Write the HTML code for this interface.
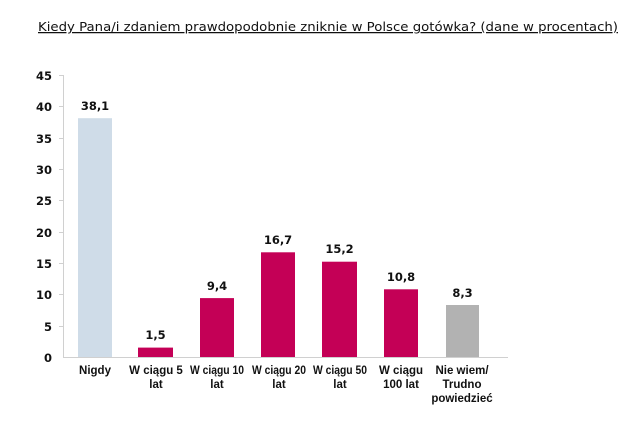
<!DOCTYPE html>
<html><head><meta charset="utf-8"><style>
body{margin:0;background:#fff;width:640px;height:421px;overflow:hidden}
svg{display:block}
text{font-family:"DejaVu Sans","Liberation Sans",sans-serif;fill:#111}
.c{font-family:"Liberation Sans",sans-serif;font-weight:bold}
</style></head><body>
<svg width="640" height="421" viewBox="0 0 640 421">
<text x="38" y="31" font-size="12.5" text-decoration="underline" textLength="580" lengthAdjust="spacingAndGlyphs">Kiedy Pana/i zdaniem prawdopodobnie zniknie w Polsce gotówka? (dane w procentach)</text>
<g stroke="#d0d0d0" stroke-width="1">
<line x1="63.5" y1="75" x2="63.5" y2="357"/>
<line x1="63" y1="357.5" x2="508" y2="357.5"/>
<line x1="59" y1="75.5" x2="63" y2="75.5"/><line x1="59" y1="106.5" x2="63" y2="106.5"/><line x1="59" y1="138.5" x2="63" y2="138.5"/><line x1="59" y1="169.5" x2="63" y2="169.5"/><line x1="59" y1="200.5" x2="63" y2="200.5"/><line x1="59" y1="232.5" x2="63" y2="232.5"/><line x1="59" y1="263.5" x2="63" y2="263.5"/><line x1="59" y1="294.5" x2="63" y2="294.5"/><line x1="59" y1="326.5" x2="63" y2="326.5"/>
</g>
<g font-size="11.5" text-anchor="end" font-weight="bold">
<text x="52" y="80">45</text><text x="52" y="111">40</text><text x="52" y="143">35</text><text x="52" y="174">30</text><text x="52" y="205">25</text><text x="52" y="237">20</text><text x="52" y="268">15</text><text x="52" y="299">10</text><text x="52" y="331">5</text><text x="52" y="362">0</text>
</g>
<rect x="78" y="118.2" width="34" height="238.8" fill="#cfdce8"/>
<rect x="138" y="347.6" width="35" height="9.4" fill="#c40056"/>
<rect x="200" y="298.1" width="34" height="58.9" fill="#c40056"/>
<rect x="261" y="252.3" width="34" height="104.7" fill="#c40056"/>
<rect x="322" y="261.7" width="35" height="95.3" fill="#c40056"/>
<rect x="384" y="289.3" width="34" height="67.7" fill="#c40056"/>
<rect x="446" y="305" width="33" height="52" fill="#b2b2b2"/>
<g font-size="11.5" text-anchor="middle" font-weight="bold">
<text x="95" y="110">38,1</text><text x="155.5" y="339">1,5</text><text x="217" y="290">9,4</text><text x="278" y="244">16,7</text><text x="339.5" y="253">15,2</text><text x="401" y="281">10,8</text><text x="462.5" y="297">8,3</text>
</g>
<g font-size="11.5" text-anchor="middle">
<text class="c" x="95" y="374">Nigdy</text>
<text class="c" x="156" y="374">W ciągu 5</text><text class="c" x="156" y="388">lat</text>
<text class="c" x="217" y="374" textLength="54" lengthAdjust="spacingAndGlyphs">W ciągu 10</text><text class="c" x="217" y="388">lat</text>
<text class="c" x="279" y="374" textLength="54" lengthAdjust="spacingAndGlyphs">W ciągu 20</text><text class="c" x="279" y="388">lat</text>
<text class="c" x="340" y="374" textLength="54" lengthAdjust="spacingAndGlyphs">W ciągu 50</text><text class="c" x="340" y="388">lat</text>
<text class="c" x="401" y="374">W ciągu</text><text class="c" x="401" y="388">100 lat</text>
<text class="c" x="462" y="374">Nie wiem/</text><text class="c" x="462" y="388">Trudno</text><text class="c" x="462" y="402">powiedzieć</text>
</g>
</svg>
</body></html>
